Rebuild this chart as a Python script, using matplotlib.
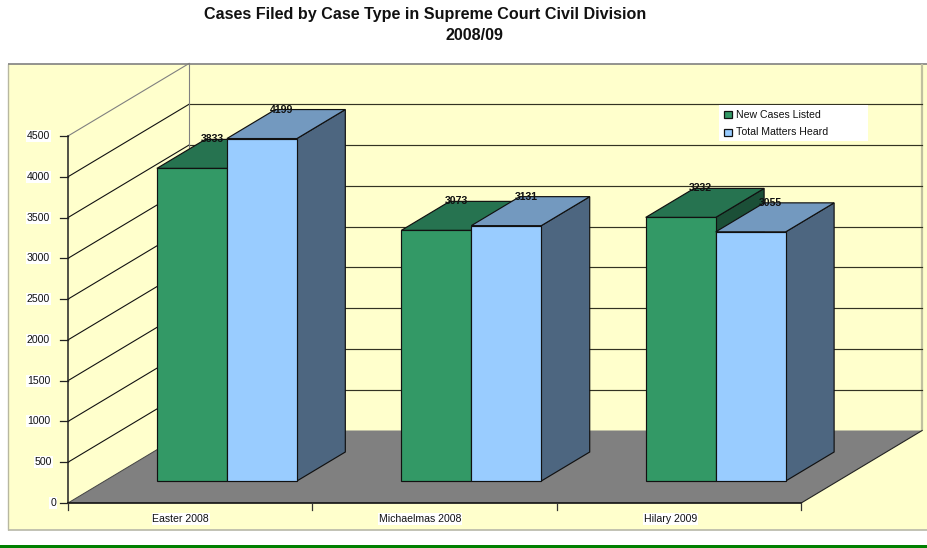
import matplotlib
matplotlib.use("Agg")
import matplotlib.pyplot as plt
from matplotlib.patches import Polygon, Rectangle

plt.rcParams['font.family'] = ['Liberation Sans', 'DejaVu Sans']

W, H = 927, 548
categories = ["Easter 2008", "Michaelmas 2008", "Hilary 2009"]
series_names = ["New Cases Listed", "Total Matters Heard"]
new_cases = [3833, 3073, 3232]
total_matters = [4199, 3131, 3055]
y_ticks = [0, 500, 1000, 1500, 2000, 2500, 3000, 3500, 4000, 4500]
title_lines = ["Cases Filed by Case Type in Supreme Court Civil Division", "2008/09"]

# scales: pixel origin of the plot and size of one unit
X0, Y0 = 68.0, 503.0
PX_CAT = 244.4
PX_VAL = 367.0 / 4500
DEPTH_X = 121.0 / PX_CAT      # full depth of floor, in category units
DEPTH_Y = 72.5 / PX_VAL       # full depth of floor, in value units
BAR_W = 70.0 / PX_CAT
BAR_START = 22.0 / 72.5       # fraction of depth where bars begin
BAR_DEPTH = 29.0 / 72.5       # fraction of depth the bars occupy
YMAX = 4500
FS = 7.6
INK = "#111111"

fig = plt.figure(figsize=(W / 100, H / 100), dpi=100, facecolor="white")
ax = fig.add_axes([0, 0, 1, 1])
ax.set_xlim(-X0 / PX_CAT, (W - X0) / PX_CAT)
ax.set_ylim((Y0 - H) / PX_VAL, Y0 / PX_VAL)
ax.axis("off")


def fx(px):
    return px / W


def fy(py):
    return 1 - py / H


def pt(c, v, depth=0.0):
    return (c + depth * DEPTH_X, v + depth * DEPTH_Y)


def poly(pts, fc, ec="#111111", lw=0.85, z=2):
    ax.add_patch(Polygon(pts, closed=True, facecolor=fc, edgecolor=ec, linewidth=lw,
                         zorder=z, joinstyle="miter"))


# chart-area frame
ax.add_patch(Rectangle((fx(8), fy(529.5)), 1 - fx(8) + 0.01, fy(64) - fy(529.5), transform=ax.transAxes,
                       facecolor="#FFFFCC", edgecolor="none", zorder=0))
for xs, ys, col, lw in [((8, 8), (64, 529.5), "#B8B8A0", 1.0),
                        ((8, 927), (529.5, 529.5), "#B8B8A8", 1.2),
                        ((8, 927), (64, 64), "#808080", 1.2),
                        ((922, 922), (64, 430), "#C0C0A0", 1.6)]:
    ax.plot([fx(x) for x in xs], [fy(y) for y in ys], transform=ax.transAxes,
            color=col, lw=lw, zorder=1, solid_capstyle="butt")

# green rule at the foot of the page
ax.add_patch(Rectangle((0, 0), 1, fy(545), transform=ax.transAxes,
                       facecolor="#008000", edgecolor="none", zorder=1))

n = len(categories)

# floor
poly([pt(0, 0), pt(n, 0), pt(n, 0, 1), pt(0, 0, 1)], "#808080", ec="none", lw=0, z=1.2)
ax.plot(*zip(pt(n, 0), pt(n, 0, 1)), color="#222222", lw=0.8, zorder=1.3)

# gridlines on the side and back walls
for v in y_ticks[1:]:
    col = "#808080" if v == YMAX else "#111111"
    a, b, c = pt(0, v), pt(0, v, 1), pt(n, v, 1)
    ax.plot([a[0], b[0]], [a[1], b[1]], color=col, lw=0.8, zorder=1.5)
    if v != YMAX:
        ax.plot([b[0], c[0]], [b[1], c[1]], color="#333322", lw=0.85, zorder=1.5)
ax.plot(*zip(pt(0, 0, 1), pt(0, YMAX, 1)), color="#808080", lw=0.8, zorder=1.5)
ax.plot(*zip(pt(0, 0), pt(0, 0, 1)), color="#444444", lw=0.7, zorder=1.5)

# axes
ax.plot(*zip(pt(0, 0), pt(0, YMAX)), color="#222222", lw=1.1, zorder=1.8)
ax.plot(*zip(pt(0, 0), pt(n, 0)), color="#111111", lw=1.2, zorder=1.8)
TICK_Y = 8.0 / PX_CAT
RIGHT_EDGE = {1: 12.0, 3: 16.0, 4: 18.0}   # px left of the axis, by digits
for v in y_ticks:
    ax.plot([-TICK_Y, 0], [v, v], color="#222222", lw=0.9, zorder=1.8)
    ax.text(-RIGHT_EDGE[len(str(v))] / PX_CAT, v, str(v), ha="right", va="center", fontsize=FS, color=INK,
            zorder=3, bbox=dict(facecolor="white", edgecolor="none", pad=0.7))
for i in range(n + 1):
    ax.plot([i, i], [0, -6.5 / PX_VAL], color="#333333", lw=0.9, zorder=1.8)
CAT_NUDGE = [-9.5, -14.7, -8.7]
for i, cat in enumerate(categories):
    ax.text(i + 0.5 + CAT_NUDGE[i] / PX_CAT, -16 / PX_VAL, cat, ha="center", va="center", fontsize=FS,
            color=INK, zorder=3, bbox=dict(facecolor="white", edgecolor="none", pad=0.5))


def bar(left, value, front, top, side):
    d0, d1 = BAR_START, BAR_START + BAR_DEPTH
    r = left + BAR_W
    poly([pt(r, 0, d0), pt(r, 0, d1), pt(r, value, d1), pt(r, value, d0)], side)
    poly([pt(left, value, d0), pt(r, value, d0), pt(r, value, d1), pt(left, value, d1)], top)
    poly([pt(left, 0, d0), pt(r, 0, d0), pt(r, value, d0), pt(left, value, d0)], front)


GREEN = ("#339966", "#267350", "#1B4F37")
BLUE = ("#99CCFF", "#7399BF", "#4D6680")
for i in range(n):
    centre = i + 0.5
    bar(centre - BAR_W, new_cases[i], *GREEN)
    bar(centre, total_matters[i], *BLUE)

for i in range(n):
    centre = i + 0.5
    for val, off in ((new_cases[i], -BAR_W / 2), (total_matters[i], BAR_W / 2)):
        x, y = pt(centre + off, val, BAR_START)
        ax.text(x + 20 / PX_CAT, y + 29 / PX_VAL, str(val), ha="center", va="center", fontsize=FS,
                fontweight="bold", color=INK, zorder=4)

# legend
ax.add_patch(Rectangle((fx(719), fy(141)), fx(149), fy(105) - fy(141), transform=ax.transAxes,
                       facecolor="white", edgecolor="none", zorder=3))
for name, col, py in zip(series_names, (GREEN[0], BLUE[0]), (114.5, 132)):
    ax.add_patch(Rectangle((fx(723.5), fy(py + 3.5)), fx(8.5), fy(py - 3.5) - fy(py + 3.5), transform=ax.transAxes,
                           facecolor=col, edgecolor="#111111", linewidth=0.9, zorder=4))
    ax.text(fx(736), fy(py), name, transform=ax.transAxes, ha="left", va="center", fontsize=FS,
            color=INK, zorder=4)

for line, cx, cy in zip(title_lines, (425, 474), (14, 35)):
    fig.text(fx(cx), fy(cy), line, ha="center", va="center", fontsize=11.6, fontweight="bold", color=INK)

fig.savefig("out.png", dpi=100)
